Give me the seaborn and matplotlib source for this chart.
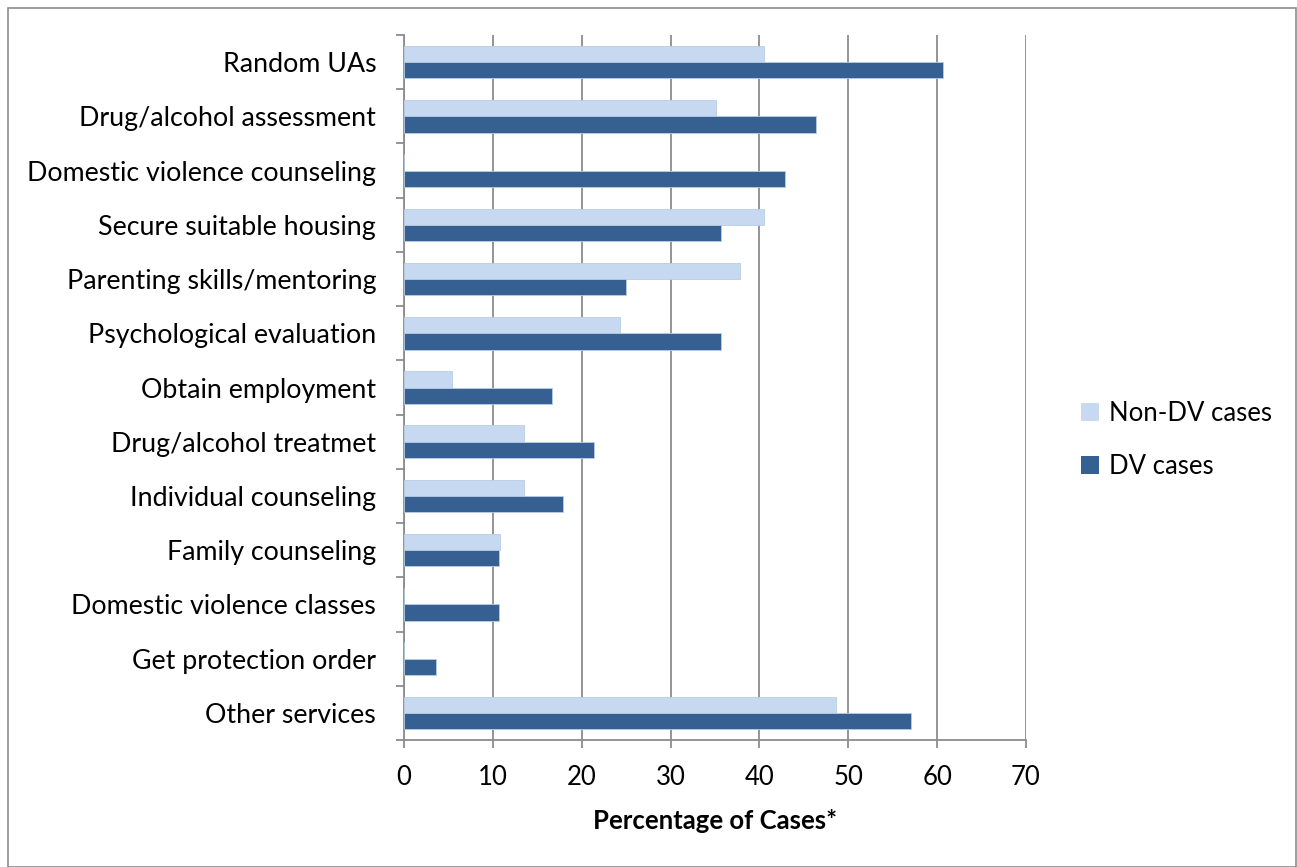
import matplotlib
matplotlib.use("Agg")
import matplotlib.pyplot as plt
from matplotlib.patches import Patch, Rectangle
import seaborn as sns
import pandas as pd

services = [
    "Random UAs",
    "Drug/alcohol assessment",
    "Domestic violence counseling",
    "Secure suitable housing",
    "Parenting skills/mentoring",
    "Psychological evaluation",
    "Obtain employment",
    "Drug/alcohol treatmet",
    "Individual counseling",
    "Family counseling",
    "Domestic violence classes",
    "Get protection order",
    "Other services",
]
non_dv = [40.5, 35.1, 0.0, 40.5, 37.8, 24.3, 5.4, 13.5, 13.5, 10.8, 0.0, 0.0, 48.6]
dv = [60.7, 46.4, 42.9, 35.7, 25.0, 35.7, 16.7, 21.4, 17.9, 10.7, 10.7, 3.6, 57.1]
series_names = ["Non-DV cases", "DV cases"]
x_ticks = [0, 10, 20, 30, 40, 50, 60, 70]

df = pd.DataFrame({
    "Service": services * 2,
    "Percent": non_dv + dv,
    "Group": [series_names[0]] * len(services) + [series_names[1]] * len(services),
})

sns.set_theme(style="white")
plt.rcParams["font.family"] = ["Lato", "DejaVu Sans"]
plt.rcParams["text.color"] = "black"
plt.rcParams["axes.labelcolor"] = "black"
plt.rcParams["xtick.color"] = "black"
plt.rcParams["ytick.color"] = "black"

colors = {"Non-DV cases": "#C6D9F1", "DV cases": "#366092"}
grid_grey = "#8C8C8C"
fs = 18.5

fig = plt.figure(figsize=(12.97, 8.67), dpi=100)
ax = fig.add_axes([404 / 1297, 1 - 740 / 867, (1026 - 404) / 1297, (740 - 35) / 867])

sns.barplot(data=df, y="Service", x="Percent", hue="Group", hue_order=series_names,
            order=services, palette=colors, saturation=1, orient="h", width=0.6, ax=ax,
            edgecolor="#B9CDE5", linewidth=0.6, legend=False, zorder=3)

ax.set_xlim(0, 70)
ax.set_ylim(len(services) - 0.5, -0.5)
ax.set_xticks(x_ticks)
ax.set_xticklabels([str(t) for t in x_ticks], fontsize=fs)
ax.grid(axis="x", color=grid_grey, linewidth=1.3, zorder=0)
ax.set_axisbelow(True)

ax.set_yticks(range(len(services)))
ax.set_yticklabels(services, fontsize=19.3)
ax.set_yticks([i - 0.5 for i in range(len(services) + 1)], minor=True)
ax.tick_params(axis="y", which="major", length=0, pad=20)
ax.tick_params(axis="y", which="minor", length=6, width=1.3, color=grid_grey, left=True)
ax.tick_params(axis="x", which="major", length=6, width=1.3, color=grid_grey,
               bottom=True, pad=12)

for side in ["top", "right"]:
    ax.spines[side].set_visible(False)
for side in ["left", "bottom"]:
    ax.spines[side].set_color(grid_grey)
    ax.spines[side].set_linewidth(1.3)

ax.set_ylabel("")
ax.set_xlabel("Percentage of Cases*", fontsize=fs, fontweight="bold", labelpad=14)

handles = [Patch(facecolor=colors[n], edgecolor="none") for n in series_names]
fig.legend(handles, series_names, loc="center left", bbox_to_anchor=(1058 / 1297, 1 - 440 / 867),
           frameon=False, fontsize=fs, handlelength=0.7, handleheight=0.7,
           handletextpad=0.4, labelspacing=1.1)

fig.patches.append(Rectangle((8 / 1297, 0), 1 - 9 / 1297, 1 - 8 / 867, transform=fig.transFigure,
                             fill=False, edgecolor=grid_grey, linewidth=1.2))

fig.savefig("out.png", dpi=100)
